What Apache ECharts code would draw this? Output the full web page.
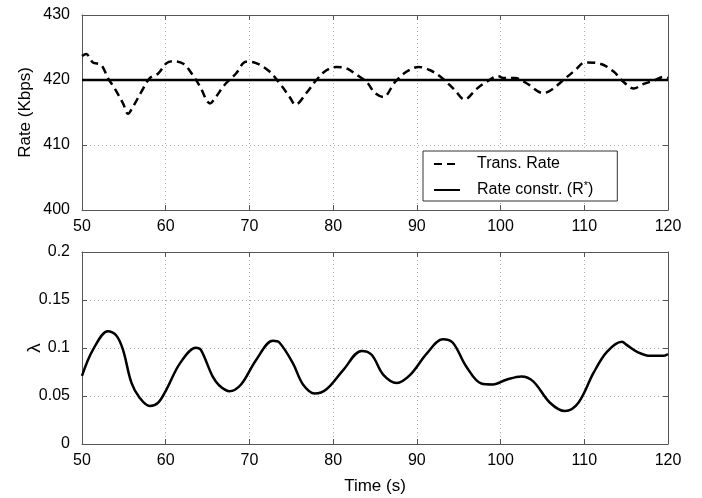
<!DOCTYPE html>
<html>
<head>
<meta charset="utf-8">
<script src="https://cdn.jsdelivr.net/npm/echarts@6/dist/echarts.min.js"></script>
<style>
html,body{margin:0;padding:0;background:#fff;}
#chart{width:702px;height:498px;}
</style>
</head>
<body>
<div id="chart"></div>
<script>
// ---- data ----
var xTicks = [50, 60, 70, 80, 90, 100, 110, 120];
var rateTicks = [400, 410, 420, 430];
var lambdaTicks = [0, 0.05, 0.1, 0.15, 0.2];

var rateTime = [50,50.5,51.3,52.3,53.1,53.9,54.9,55.5,56.1,57.1,58.1,59.1,60.1,60.9,62.1,63.1,64.1,65.3,66.0,67.0,68.4,69.6,70.8,72.4,73.6,74.8,75.5,76.8,78.0,79.2,80.4,81.6,82.8,84.0,85.0,86.0,87.4,88.8,90.2,91.6,93.0,94.5,95.7,97.1,98.3,99.7,100.3,101.7,103.1,105.1,106.1,107.5,108.9,110.1,111.9,113.5,114.7,115.9,117.1,118.3,119.5,120];
var rateValues = [423.7,424,422.7,422.3,420.3,418.7,416.4,414.8,415.9,418.2,420.3,421,422.6,422.9,422.5,421,419,416.4,417.4,419.2,421,422.8,422.6,421.3,419.5,417.4,416.2,418,420,421.5,422,421.8,420.8,419.7,418,417.4,419.7,421.3,422,421.5,420.3,418.5,417,418.6,419.7,420.6,420.3,420.3,419.5,418,418.5,420,421.5,422.7,422.5,421.3,419.7,418.7,419.4,419.9,420.5,420.3];

var constrTime = [50, 120];
var constrValues = [420, 420];

var lambdaTime = [50,51.3,53.1,54.1,54.9,55.9,56.9,58.1,59.1,60.1,61.7,63.6,64.2,65.6,66.4,67.6,69.0,70.8,72.8,73.6,75.2,76.4,77.8,79.2,81.2,83.4,84.6,86.0,87.6,89.2,91.2,93.1,94.3,95.9,97.7,99.1,100.7,102.5,103.9,105.9,107.7,109.3,111.1,112.7,114.5,115.1,116.3,117.9,119.5,120];
var lambdaValues = [0.071,0.098,0.1175,0.113,0.098,0.064,0.048,0.0395,0.043,0.057,0.084,0.1003,0.098,0.0704,0.061,0.055,0.062,0.0876,0.1075,0.1055,0.084,0.062,0.0526,0.057,0.077,0.097,0.093,0.072,0.0636,0.072,0.0945,0.109,0.1055,0.0807,0.063,0.062,0.067,0.0704,0.0653,0.043,0.0343,0.043,0.074,0.096,0.1065,0.103,0.096,0.0918,0.0918,0.0938];

function zip(a, b) { return a.map(function (v, i) { return [v, b[i]]; }); }

var FONT = 'Liberation Sans, Arial, sans-serif';
var AXIS_COLOR = '#555';
var GRID_LINE = { show: true, lineStyle: { color: '#b0b0b0', width: 1, type: [1, 3] } };

function xAxis(grid, pos, labels, extra) {
  var o = {
    type: 'value', gridIndex: grid, position: pos,
    min: xTicks[0], max: xTicks[xTicks.length - 1], interval: xTicks[1] - xTicks[0],
    axisLine: { show: true, onZero: false, lineStyle: { color: AXIS_COLOR, width: 1 } },
    axisTick: { show: true, inside: true, length: 5, lineStyle: { color: AXIS_COLOR } },
    axisLabel: { show: labels, color: '#000', fontSize: 16, fontFamily: FONT, margin: 9 },
    splitLine: pos === 'bottom' ? GRID_LINE : { show: false }
  };
  for (var k in extra) o[k] = extra[k];
  return o;
}
function yAxis(grid, pos, ticks, labels, extra) {
  var o = {
    type: 'value', gridIndex: grid, position: pos,
    min: ticks[0], max: ticks[ticks.length - 1], interval: ticks[1] - ticks[0],
    axisLine: { show: true, onZero: false, lineStyle: { color: AXIS_COLOR, width: 1 } },
    axisTick: { show: true, inside: true, length: 5, lineStyle: { color: AXIS_COLOR } },
    axisLabel: { show: labels, color: '#000', fontSize: 16, fontFamily: FONT, margin: 12 },
    splitLine: pos === 'left' ? GRID_LINE : { show: false }
  };
  for (var k in extra) o[k] = extra[k];
  return o;
}

var chart = echarts.init(document.getElementById('chart'), null, { renderer: 'canvas' });
chart.setOption({
  animation: false,
  backgroundColor: '#fff',
  grid: [
    { left: 82, top: 15, width: 586, height: 195 },
    { left: 82, top: 252, width: 586, height: 192 }
  ],
  legend: {
    left: 423, top: 151,
    orient: 'vertical',
    data: ['Trans. Rate', 'Rate constr. (R*)'],
    padding: [5, 24, 3, 10],
    itemWidth: 26, itemHeight: 14, itemGap: 8,
    borderColor: '#333', borderWidth: 1, backgroundColor: '#fff',
    itemStyle: { opacity: 0 },
    formatter: function (name) {
      return name === 'Rate constr. (R*)' ? 'Rate constr. (R{sup|*})' : name;
    },
    textStyle: {
      color: '#000', fontSize: 16, fontFamily: FONT, padding: [0, 0, 0, 12],
      rich: { sup: { fontSize: 11, fontFamily: FONT, color: '#000', padding: [0, 0, 9, 0] } }
    }
  },
  xAxis: [
    xAxis(0, 'bottom', true),
    xAxis(0, 'top', false),
    xAxis(1, 'bottom', true, {
      name: 'Time (s)', nameLocation: 'middle', nameGap: 34, nameMoveOverlap: false,
      nameTextStyle: { color: '#000', fontSize: 17, fontFamily: FONT }
    }),
    xAxis(1, 'top', false)
  ],
  yAxis: [
    yAxis(0, 'left', rateTicks, true, {
      name: 'Rate (Kbps)', nameLocation: 'middle', nameGap: 48, nameRotate: 90, nameMoveOverlap: false,
      nameTextStyle: { color: '#000', fontSize: 17, fontFamily: FONT }
    }),
    yAxis(0, 'right', rateTicks, false),
    yAxis(1, 'left', lambdaTicks, true, {
      name: 'λ', nameLocation: 'middle', nameGap: 38, nameRotate: 90, nameMoveOverlap: false,
      nameTextStyle: { color: '#000', fontSize: 19, fontFamily: FONT }
    }),
    yAxis(1, 'right', lambdaTicks, false)
  ],
  series: [
    {
      name: 'Trans. Rate', type: 'line', xAxisIndex: 0, yAxisIndex: 0,
      data: zip(rateTime, rateValues), symbol: 'none', smooth: 0.35,
      lineStyle: { color: '#000', width: 2.5, type: [8, 5] }, itemStyle: { color: '#000' }, z: 3
    },
    {
      name: 'Rate constr. (R*)', type: 'line', xAxisIndex: 0, yAxisIndex: 0,
      data: zip(constrTime, constrValues), symbol: 'none',
      lineStyle: { color: '#000', width: 2.5 }, itemStyle: { color: '#000' }, z: 2
    },
    {
      name: 'lambda', type: 'line', xAxisIndex: 2, yAxisIndex: 2,
      data: zip(lambdaTime, lambdaValues), symbol: 'none', smooth: 0.35,
      lineStyle: { color: '#000', width: 2.5 }, itemStyle: { color: '#000' }
    }
  ]
});
</script>
</body>
</html>
